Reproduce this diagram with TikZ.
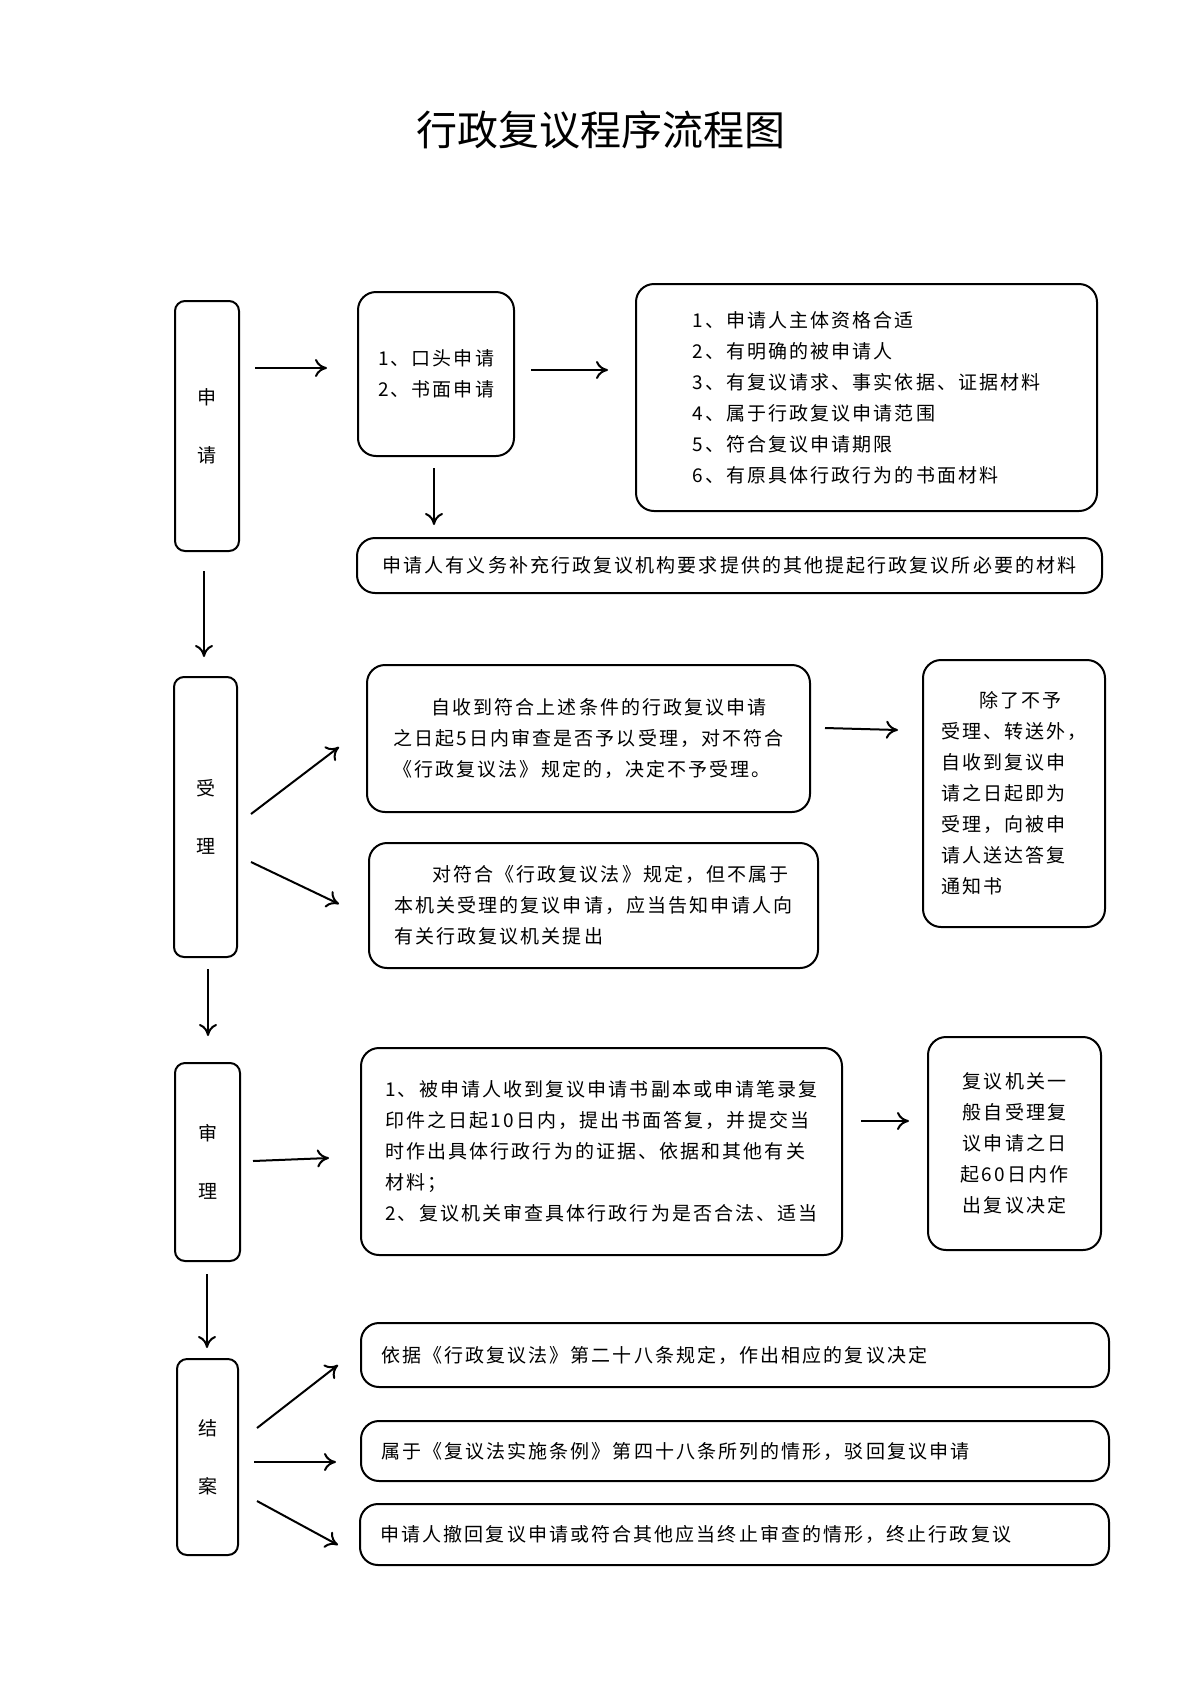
\documentclass[tikz,border=0pt]{standalone}
\usepackage{fontspec}
\setmainfont{Noto Sans CJK SC}[LetterSpace=11]
\newfontfamily\ttl{Noto Sans CJK SC}
\usetikzlibrary{arrows.meta}
\begin{document}
\begin{tikzpicture}[x=0.5pt,y=-0.5pt,
  box/.style={draw,line width=1pt,rounded corners=9pt,font=\fontsize{9.5pt}{15.5pt}\selectfont,align=left,inner sep=0pt},
  col/.style={draw,line width=1pt,rounded corners=5pt,font=\fontsize{9.5pt}{29pt}\selectfont,align=center,inner sep=0pt},
  arr/.style={line width=1pt,-{To[length=6pt,width=9pt]}}]
\useasboundingbox (0,0) rectangle (1200,1698);
\node[font=\ttl\fontsize{20.5pt}{24pt}\selectfont] (title) at (601,130) {行政复议程序流程图};
\node[col,minimum width=32pt,minimum height=125pt] (c1) at (207,426) {申\\请};
\node[col,minimum width=31.5pt,minimum height=140pt] (c2) at (205.5,817) {受\\理};
\node[col,minimum width=32.5pt,minimum height=99pt] (c3) at (207.5,1162) {审\\理};
\node[col,minimum width=30.5pt,minimum height=98pt] (c4) at (207.5,1457) {结\\案};
\node[box,minimum width=78pt,minimum height=82pt] (b1) at (436,374) {1、口头申请\\2、书面申请};
\node[box,minimum width=230.5pt,minimum height=113.5pt] (b2) at (866.5,397.5) {1、申请人主体资格合适\\2、有明确的被申请人\\3、有复议请求、事实依据、证据材料\\4、属于行政复议申请范围\\5、符合复议申请期限\\6、有原具体行政行为的书面材料\hspace{30pt}};
\node[box,minimum width=372.5pt,minimum height=27.5pt] (b3) at (729.5,565.5) {申请人有义务补充行政复议机构要求提供的其他提起行政复议所必要的材料};
\node[box,minimum width=221.5pt,minimum height=73.5pt] (b4) at (588.5,738.5) {\hspace{19pt}自收到符合上述条件的行政复议申请\\之日起5日内审查是否予以受理，对不符合\\《行政复议法》规定的，决定不予受理。};
\node[box,minimum width=91pt,minimum height=133.5pt] (b5) at (1014,793.5) {\hspace{19pt}除了不予\\受理、转送外，\\自收到复议申\\请之日起即为\\受理，向被申\\请人送达答复\\通知书};
\node[box,minimum width=224.5pt,minimum height=62.5pt] (b6) at (593.5,905.5) {\hspace{19pt}对符合《行政复议法》规定，但不属于\\本机关受理的复议申请，应当告知申请人向\\有关行政复议机关提出};
\node[box,minimum width=240.5pt,minimum height=103.5pt] (b7) at (601.5,1151.5) {1、被申请人收到复议申请书副本或申请笔录复\\印件之日起10日内，提出书面答复，并提交当\\时作出具体行政行为的证据、依据和其他有关\\材料；\\2、复议机关审查具体行政行为是否合法、适当};
\node[box,minimum width=86.5pt,minimum height=106.5pt,align=center] (b8) at (1014.5,1143.5) {复议机关一\\般自受理复\\议申请之日\\起60日内作\\出复议决定};
\node[box,minimum width=374pt,minimum height=32pt,text width=354pt] (b9) at (735,1355) {依据《行政复议法》第二十八条规定，作出相应的复议决定};
\node[box,minimum width=374pt,minimum height=30pt,text width=354pt] (b10) at (735,1451) {属于《复议法实施条例》第四十八条所列的情形，驳回复议申请};
\node[box,minimum width=374.5pt,minimum height=30.5pt,text width=354pt] (b11) at (734.5,1534.5) {申请人撤回复议申请或符合其他应当终止审查的情形，终止行政复议};
\foreach \n/\a/\b/\c/\d in {1/255/368/327/368, 2/531/370/608/370, 3/434/468/434/525, 4/204/571/204/657,
  5/251/814/339/747, 6/251/862/339/904, 7/825/728/898/730, 8/208/969/208/1036,
  9/253/1161/329/1158, 10/861/1121/909/1121, 11/207/1274/207/1348,
  12/257/1428/338/1365, 13/254/1462/336/1462, 14/257/1501/338/1545}{
  \coordinate (s\n) at (\a,\b); \coordinate (e\n) at (\c,\d);
  \draw[arr] (s\n) -- (e\n);}
\end{tikzpicture}
\end{document}
